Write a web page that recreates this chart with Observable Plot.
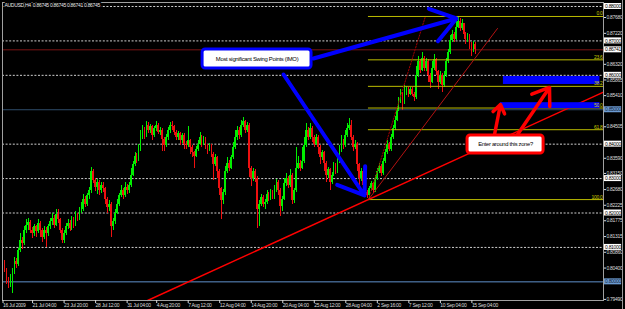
<!DOCTYPE html>
<html><head><meta charset="utf-8">
<script src="https://cdn.jsdelivr.net/npm/d3@7"></script>
<script src="https://cdn.jsdelivr.net/npm/@observablehq/plot@0.6"></script>
<style>
html,body{margin:0;padding:0;background:#000;}
#wrap{position:relative;width:625px;height:309px;overflow:hidden;background:#000;}
#edge{position:absolute;left:622px;top:0;width:1px;height:309px;background:#9a9a9a;}
#wrap svg text{letter-spacing:-0.3px;}
</style></head><body><div id="wrap"><div id="edge"></div></div>
<script>
// ---- data (prices in pips x 1e-4) ----
const symbolTitle = "AUDUSD,H4  0.86745 0.86745 0.86741 0.86745";
const open0 = 8050;
const closeP = [
8035,8005,7990,8010,8030,8060,8050,8090,8120,8110,
8150,8165,8172,8150,8140,8160,8145,8170,8150,8130,
8150,8140,8160,8175,8185,8165,8195,8180,8150,8120,
8140,8160,8170,8155,8180,8165,8190,8185,8205,8210,
8240,8225,8250,8265,8320,8295,8275,8290,8265,8280,
8270,8240,8215,8225,8160,8175,8200,8225,8250,8265,
8250,8275,8265,8280,8310,8340,8365,8355,8385,8420,
8440,8425,8455,8440,8450,8425,8445,8455,8435,8440,
8415,8395,8420,8440,8455,8450,8435,8420,8430,8410,
8425,8400,8395,8410,8390,8375,8365,8385,8400,8420,
8400,8415,8395,8385,8395,8370,8340,8360,8320,8270,
8235,8260,8320,8345,8330,8360,8390,8420,8440,8425,
8455,8465,8440,8455,8330,8300,8320,8300,8210,8225,
8245,8225,8230,8255,8240,8260,8245,8265,8290,8265,
8220,8240,8285,8300,8280,8310,8235,8265,8330,8345,
8330,8350,8395,8440,8420,8445,8420,8400,8420,8390,
8360,8375,8345,8310,8325,8290,8310,8340,8320,8350,
8380,8410,8395,8425,8445,8455,8420,8390,8400,8340,
8300,8320,8280,8260,8250,8270,8285,8265,8300,8320,
8335,8315,8350,8375,8400,8385,8420,8445,8470,8500,
8525,8545,8520,8550,8560,8545,8560,8545,8535,8600,
8640,8615,8650,8620,8640,8600,8580,8620,8645,8610,
8580,8600,8570,8600,8640,8665,8700,8720,8705,8740,
8755,8735,8750,8720,8700,8715,8690,8670,8690,8674.5];
const highP = [
8062,8040,8012,8020,8040,8070,8068,8098,8140,8128,
8160,8180,8185,8178,8158,8168,8165,8180,8175,8155,
8160,8158,8168,8185,8200,8192,8210,8210,8185,8155,
8150,8170,8180,8178,8190,8186,8205,8198,8215,8230,
8255,8248,8258,8275,8333,8325,8300,8298,8295,8290,
8288,8275,8245,8235,8230,8185,8210,8240,8258,8280,
8270,8290,8282,8288,8330,8350,8375,8372,8400,8440,
8455,8448,8465,8462,8458,8455,8452,8465,8460,8448,
8445,8420,8428,8448,8462,8465,8455,8440,8438,8435,
8432,8430,8408,8450,8415,8395,8380,8392,8410,8435,
8425,8422,8420,8400,8402,8398,8375,8370,8365,8325,
8275,8268,8335,8360,8352,8368,8405,8440,8450,8448,
8470,8478,8470,8462,8460,8335,8328,8325,8305,8235,
8255,8250,8240,8265,8260,8268,8265,8280,8298,8295,
8270,8248,8300,8315,8305,8325,8315,8272,8390,8365,
8352,8390,8420,8460,8448,8460,8450,8425,8428,8425,
8395,8382,8380,8350,8332,8330,8318,8348,8345,8365,
8395,8425,8415,8440,8460,8475,8470,8425,8410,8405,
8345,8328,8325,8285,8265,8278,8292,8290,8308,8328,
8345,8340,8358,8385,8410,8405,8428,8455,8480,8510,
8535,8560,8550,8570,8568,8565,8566,8564,8550,8625,
8655,8645,8665,8655,8650,8645,8605,8640,8660,8650,
8615,8610,8605,8612,8650,8675,8715,8730,8725,8755,
8771,8765,8762,8752,8725,8722,8718,8695,8698,8695];
const lowP = [
8028,7992,7980,7985,7966,8022,8040,8045,8085,8095,
8105,8140,8150,8140,8125,8132,8128,8140,8130,8115,
8122,8100,8132,8152,8165,8155,8160,8170,8140,8110,
8112,8135,8152,8145,8150,8155,8160,8175,8178,8198,
8205,8215,8220,8240,8258,8285,8262,8255,8250,8258,
8260,8225,8200,8205,8130,8150,8168,8195,8218,8245,
8240,8245,8255,8258,8275,8305,8335,8345,8350,8380,
8415,8415,8420,8430,8432,8410,8420,8438,8428,8425,
8380,8380,8390,8412,8432,8440,8425,8410,8412,8395,
8402,8385,8385,8390,8370,8360,8330,8360,8378,8395,
8390,8395,8385,8370,8378,8360,8295,8335,8300,8250,
8180,8225,8250,8315,8322,8325,8355,8385,8412,8415,
8420,8448,8430,8435,8303,8278,8292,8290,8155,8160,
8218,8215,8210,8225,8232,8235,8238,8240,8260,8250,
8190,8205,8235,8278,8270,8275,8225,8228,8260,8325,
8320,8325,8345,8390,8410,8415,8405,8390,8395,8370,
8340,8352,8320,8290,8300,8265,8282,8305,8312,8315,
8345,8375,8385,8390,8420,8440,8410,8380,8385,8320,
8280,8292,8265,8250,8242,8239,8262,8258,8260,8295,
8315,8305,8310,8345,8370,8378,8380,8415,8440,8465,
8495,8518,8498,8515,8540,8536,8540,8538,8525,8530,
8595,8605,8610,8610,8612,8580,8562,8575,8615,8600,
8560,8572,8550,8565,8595,8635,8660,8695,8695,8700,
8735,8728,8730,8705,8690,8695,8675,8655,8665,8660];

// time axis (bar index of each label) and labels
const xTickPos = [-1,14,30,46,62,77,93,109,125,141,157,173,189,205,221,237];
const xTickLabels = ["16 Jul 2009","21 Jul 04:00","23 Jul 20:00","28 Jul 12:00","31 Jul 04:00","4 Aug 20:00","7 Aug 12:00","12 Aug 04:00","14 Aug 20:00","20 Aug 04:00","25 Aug 12:00","28 Aug 04:00","2 Sep 16:00","7 Sep 12:00","10 Sep 04:00","15 Sep 04:00"];
// price axis
const yTicks = [0.79490,0.80400,0.80860,0.81315,0.81775,0.82225,0.82680,0.83150,0.83590,0.84505,0.85410,0.85865,0.86320,0.87220,0.87680];
const dottedLevels = [0.81,0.82,0.83,0.84,0.86,0.87,0.88];
const whiteBoxLevels = [0.88,0.87,0.86741,0.86,0.84,0.83,0.82,0.81];
const blueLevels = [0.85,0.80];
const bidLevel = 0.86741;
// fibonacci retracement
const fibLevels = [0.8771,0.8645,0.8568,0.8505,0.8442,0.8239];
const fibNames = ["0.0","23.6","38.2","50.0","61.8","100.0"];
const fibStartBar = 184.5;
// drawn objects (bar index, price)
const zones = [{x1:253,x2:302,y1:0.85734,y2:0.85967},{x1:251.5,x2:302,y1:0.85030,y2:0.85205}];
const trendMain = [{i:72.4,p:0.79458},{i:303.8,p:0.85513}];
const trendThin = [{i:184.5,p:0.8239},{i:250,p:0.87361}];
const fibDiag = [{i:184.5,p:0.8239},{i:213.4,p:0.8771}];
const blueArrows = [{x1:156.6,y1:0.86489,x2:229.2,y2:0.87651},{x1:141.4,y1:0.86024,x2:182.5,y2:0.82509}];
const redArrows = [{x1:248.5,y1:0.84281,x2:251.5,y2:0.85153},{x1:260.2,y1:0.84281,x2:276.4,y2:0.85647}];
const noteBlue = {x1:100.3,x2:155.6,y1:0.86199,y2:0.86751,text:"Most significant Swing Points (IMO)"};
const noteRed = {x1:234.8,x2:273.4,y1:0.83729,y2:0.84252,text:"Enter around this zone?"};

// ---- build ----
const bars = closeP.map((c,i)=>({i, o:(i?closeP[i-1]:open0)/1e4, c:c/1e4, h:highP[i]/1e4, l:lowP[i]/1e4}));
const BULL="#00ee00", BEAR="#ee1010";
const XMAX=303.81, XMIN=-1.269;
const SANS="'Liberation Sans',Arial,sans-serif";
const xLab = new Map(xTickPos.map((p,k)=>[p,xTickLabels[k]]));

const chart = Plot.plot({
  width:625, height:309,
  marginLeft:2, marginRight:22, marginTop:2, marginBottom:9,
  x:{type:"linear", domain:[XMIN,XMAX]},
  y:{type:"linear", domain:[0.79458,0.88116]},
  style:{background:"#000", color:"#dcdcdc", fontFamily:SANS, fontSize:"5px", overflow:"visible"},
  marks:[
    Plot.ruleY(dottedLevels,{stroke:"#cfcfcf", strokeDasharray:"2,1.6", strokeWidth:1}),
    Plot.ruleY([blueLevels[0]],{stroke:"#2f4c6a", strokeWidth:1}),
    Plot.ruleY([blueLevels[1]],{stroke:"#5f90cc", strokeWidth:1}),
    Plot.ruleY([bidLevel],{stroke:"#7a1414", strokeWidth:1}),
    Plot.ruleX(bars,{x:"i", y1:"l", y2:"h", stroke:d=>d.c>=d.o?BULL:BEAR, strokeWidth:1, shapeRendering:"crispEdges"}),
    Plot.rect(bars,{x1:d=>d.i-0.42, x2:d=>d.i+0.42, y1:"o", y2:"c", fill:d=>d.c>=d.o?BULL:BEAR, shapeRendering:"crispEdges"}),
    Plot.ruleY(fibLevels,{x1:fibStartBar, x2:XMAX, stroke:"#bcbc00", strokeWidth:1}),
    Plot.line(fibDiag,{x:"i", y:"p", stroke:"#a00000", strokeDasharray:"1.5,1.5", strokeWidth:1}),
    Plot.line(trendThin,{x:"i", y:"p", stroke:"#b51212", strokeWidth:1}),
    Plot.line(trendMain,{x:"i", y:"p", stroke:"#ff0000", strokeWidth:1.4}),
    Plot.rect(zones,{x1:"x1", x2:"x2", y1:"y1", y2:"y2", fill:"#0000ff"}),
    Plot.text(fibLevels,{x:XMAX, y:d=>d, text:(d,k)=>fibNames[k], textAnchor:"end", lineAnchor:"bottom", dx:-1, dy:-1, fill:"#c8c800", fontSize:5}),
    Plot.arrow(blueArrows,{x1:"x1", y1:"y1", x2:"x2", y2:"y2", stroke:"#0000ff", strokeWidth:4, headLength:11, headAngle:70}),
    Plot.arrow(redArrows,{x1:"x1", y1:"y1", x2:"x2", y2:"y2", stroke:"#ff0000", strokeWidth:3.5, headLength:9, headAngle:70}),
    Plot.rect([noteBlue],{x1:"x1", x2:"x2", y1:"y1", y2:"y2", fill:"#fff", stroke:"#0000ff", strokeWidth:3, rx:3}),
    Plot.text([noteBlue],{x:d=>(d.x1+d.x2)/2, y:d=>(d.y1+d.y2)/2, text:"text", fill:"#000", fontSize:5.9}),
    Plot.rect([noteRed],{x1:"x1", x2:"x2", y1:"y1", y2:"y2", fill:"#fff", stroke:"#ff0000", strokeWidth:3, rx:3}),
    Plot.text([noteRed],{x:d=>(d.x1+d.x2)/2, y:d=>(d.y1+d.y2)/2, text:"text", fill:"#000", fontSize:5.8}),
    Plot.frame({stroke:"#a0a0a0"}),
    Plot.axisY({anchor:"right", ticks:yTicks, tickFormat:d3.format(".5f"), tickSize:2, tickPadding:1, fontSize:5, color:"#dcdcdc", label:null}),
    Plot.rect(whiteBoxLevels,{x1:304.3, x2:313.0, y1:d=>d-0.00087, y2:d=>d+0.00087, fill:"#ffffff"}),
    Plot.text(whiteBoxLevels,{x:304.6, y:d=>d, text:d=>d.toFixed(5), textAnchor:"start", fill:"#000", fontSize:5}),
    Plot.rect(blueLevels,{x1:304.3, x2:313.0, y1:d=>d-0.00087, y2:d=>d+0.00087, fill:"#6c9bd2"}),
    Plot.text(blueLevels,{x:304.6, y:d=>d, text:d=>d.toFixed(5), textAnchor:"start", fill:"#13243a", fontSize:5}),
    Plot.axisX({anchor:"bottom", ticks:xTickPos, tickFormat:d=>xLab.get(d), tickSize:3, tickPadding:0, textAnchor:"start", fontSize:5, color:"#dcdcdc", label:null}),
    Plot.text([symbolTitle],{frameAnchor:"top-left", text:d=>d, textAnchor:"start", lineAnchor:"top", dx:2, dy:1, fill:"#e8e8e8", stroke:"#000", strokeWidth:2.5, fontSize:5})
  ]
});
document.getElementById("wrap").appendChild(chart);
</script>
</body></html>
